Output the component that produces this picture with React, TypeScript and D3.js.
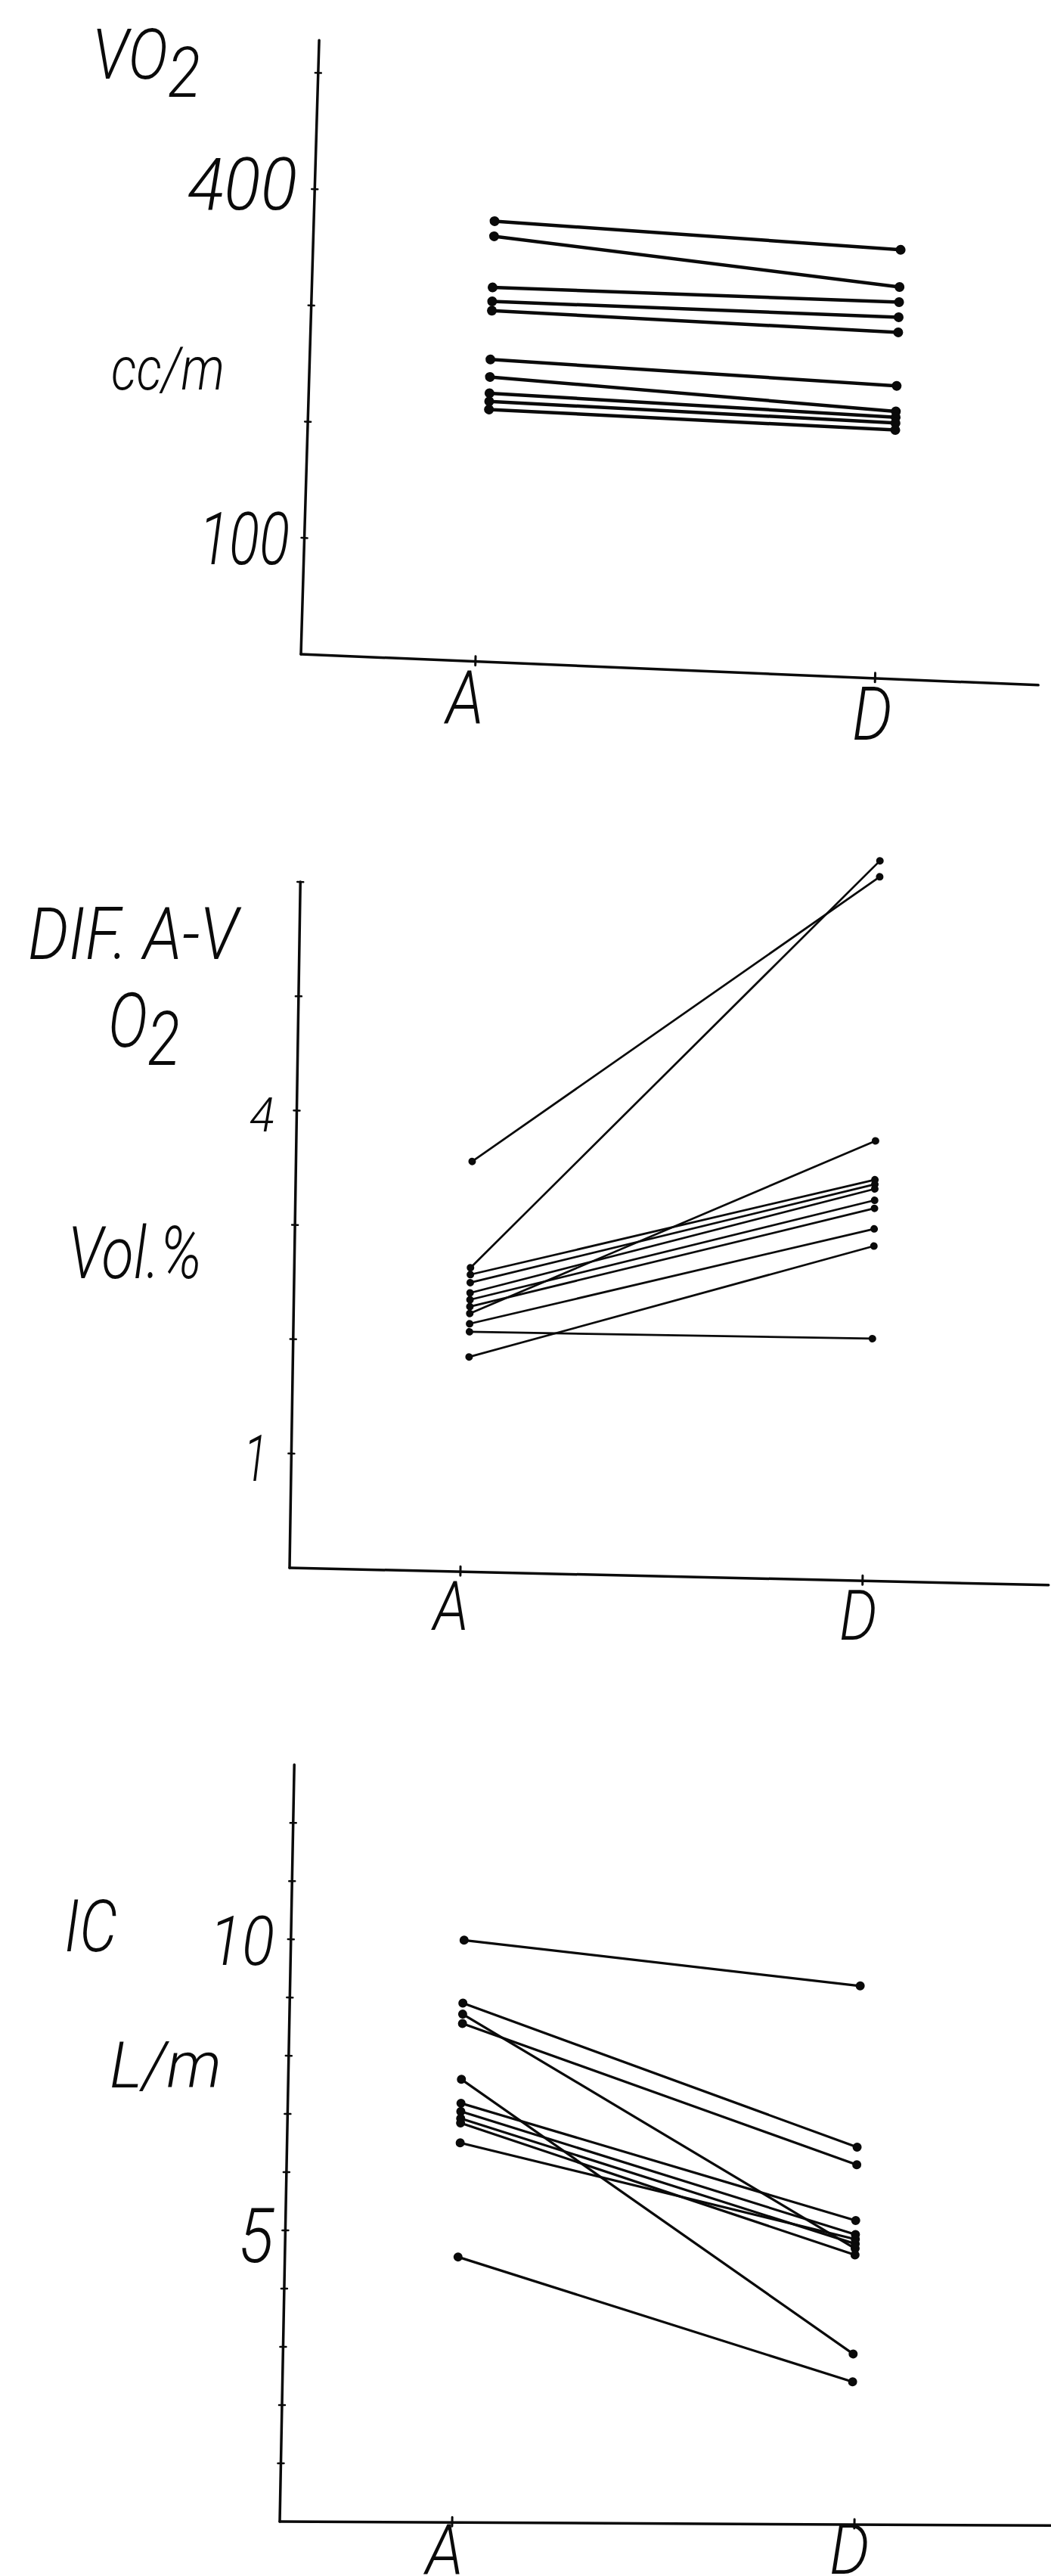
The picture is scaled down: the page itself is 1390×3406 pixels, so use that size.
import * as d3 from 'd3';

const GROUPS = ['A', 'D'];

// VO2 (cc/m), value at A and at D for each subject
const vo2Before = [379, 366, 322, 310, 302, 260, 245, 231, 224, 217];
const vo2After = [369, 337, 324, 311, 298, 252, 230, 225, 220, 214];
const vo2Ticks = [100, 200, 300, 400, 500];

// DIF. A-V O2 (Vol.%)
const difBefore = [3.59, 2.66, 1.88, 2.26, 2.1, 2.6, 2.53, 2.44, 2.38, 2.32, 2.17];
const difAfter = [6.16, 6.3, 2.93, 3.85, 2.12, 3.51, 3.47, 3.43, 3.33, 3.26, 3.08];
const difTicks = [1, 2, 3, 4, 5, 6];

// IC (L/m)
const icBefore = [10.0, 8.92, 8.57, 8.73, 7.61, 7.2, 7.06, 6.94, 6.86, 6.52, 4.56];
const icAfter = [9.25, 6.48, 6.18, 4.74, 2.93, 5.22, 4.98, 4.82, 4.63, 4.9, 2.45];
const icTicks = [1, 2, 3, 4, 5, 6, 7, 8, 9, 10, 11, 12];

const WIDTH = 1390;
const HEIGHT = 3406;
const INK = '#0a0a0a';
const FONT = "Roboto, Inter, 'Open Sans', 'DejaVu Sans', sans-serif";

interface PanelProps {
  before: number[];
  after: number[];
  ticks: number[];
  yMax: number;
  axisLen: number;
  origin: [number, number];
  alpha: number; // tilt of the x axis, degrees
  beta: number; // tilt of the y axis, degrees
  xLen: number;
  tickRange: [number, number];
  dataRange: [number, number];
  lineWidth: number;
  dotR: number;
}

function Panel({
  before, after, ticks, yMax, axisLen, origin, alpha, beta,
  xLen, tickRange, dataRange, lineWidth, dotR,
}: PanelProps) {
  const y = d3.scaleLinear().domain([0, yMax]).range([0, -axisLen]);
  const xTick = d3.scalePoint<string>().domain(GROUPS).range(tickRange);
  const xData = d3.scalePoint<string>().domain(GROUPS).range(dataRange);

  const a = (alpha * Math.PI) / 180;
  const b = (beta * Math.PI) / 180;
  // hand drawn axes are not quite square to the page
  const m = `matrix(${Math.cos(a)},${Math.sin(a)},${-Math.sin(b)},${Math.cos(b)},${origin[0]},${origin[1]})`;

  const pairs = before.map((v, i) => [v, after[i]]);

  return (
    <g transform={m} stroke={INK} strokeLinecap="round">
      <line x1={0} y1={0} x2={0} y2={y(yMax)} strokeWidth={3.5} />
      <line x1={0} y1={0} x2={xLen} y2={0} strokeWidth={3.5} />
      {ticks.map((t) => (
        <line key={t} x1={-4} x2={4} y1={y(t)} y2={y(t)} strokeWidth={2.5} />
      ))}
      {GROUPS.map((g) => (
        <line key={g} x1={xTick(g)} x2={xTick(g)} y1={-7} y2={5} strokeWidth={3} />
      ))}
      {pairs.map((p, i) => (
        <g key={i}>
          <line
            x1={xData('A')}
            y1={y(p[0])}
            x2={xData('D')}
            y2={y(p[1])}
            strokeWidth={lineWidth}
          />
          <circle cx={xData('A')} cy={y(p[0])} r={dotR} fill={INK} stroke="none" />
          <circle cx={xData('D')} cy={y(p[1])} r={dotR} fill={INK} stroke="none" />
        </g>
      ))}
    </g>
  );
}

interface LabelProps {
  x: number;
  y: number;
  size: number;
  w: number;
  children: string;
  sub?: string; // dropped "2" of O2
  subDy?: number;
}

function Label({ x, y, size, w, children, sub, subDy = 24 }: LabelProps) {
  return (
    <text
      x={x}
      y={y}
      fontSize={size}
      textLength={w}
      lengthAdjust="spacingAndGlyphs"
      fontFamily={FONT}
      fontStyle="italic"
      fontWeight={300}
      fill={INK}
    >
      {children}
      {sub ? <tspan dy={subDy}>{sub}</tspan> : null}
    </text>
  );
}

export default function App() {
  return (
    <svg
      width={WIDTH}
      height={HEIGHT}
      viewBox={`0 0 ${WIDTH} ${HEIGHT}`}
      style={{ position: 'absolute', left: 0, top: 0, background: '#fff' }}
    >
      <rect width={WIDTH} height={HEIGHT} fill="#fff" />

      {/* VO2 */}
      <Panel
        before={vo2Before}
        after={vo2After}
        ticks={vo2Ticks}
        yMax={528}
        axisLen={812}
        origin={[398, 865]}
        alpha={2.4}
        beta={1.7}
        xLen={976}
        tickRange={[231, 760]}
        dataRange={[239, 777]}
        lineWidth={4.5}
        dotR={6.5}
      />
      <Label x={122} y={104} size={92} w={143} sub="2" subDy={24}>VO</Label>
      <Label x={248} y={277} size={96} w={145}>400</Label>
      <Label x={147} y={515} size={80} w={150}>cc/m</Label>
      <Label x={263} y={746} size={96} w={120}>100</Label>
      <Label x={590} y={957} size={98} w={50}>A</Label>
      <Label x={1127} y={978} size={98} w={53}>D</Label>

      {/* DIF. A-V O2 */}
      <Panel
        before={difBefore}
        after={difAfter}
        ticks={difTicks}
        yMax={6}
        axisLen={907}
        origin={[383, 2073]}
        alpha={1.3}
        beta={0.9}
        xLen={1004}
        tickRange={[226, 758]}
        dataRange={[233, 766]}
        lineWidth={2.7}
        dotR={5}
      />
      <Label x={37} y={1268} size={96} w={278}>DIF. A-V</Label>
      <Label x={143} y={1384} size={100} w={95} sub="2" subDy={24}>O</Label>
      <Label x={330} y={1496} size={63} w={33}>4</Label>
      <Label x={90} y={1690} size={96} w={177}>Vol.%</Label>
      <Label x={322} y={1958} size={86} w={32}>1</Label>
      <Label x={573} y={2155} size={90} w={47}>A</Label>
      <Label x={1110} y={2168} size={93} w={50}>D</Label>

      {/* IC */}
      <Panel
        before={icBefore}
        after={icAfter}
        ticks={icTicks}
        yMax={13}
        axisLen={1001}
        origin={[370, 3334]}
        alpha={0.3}
        beta={1.1}
        xLen={1020}
        tickRange={[228, 760]}
        dataRange={[229, 754]}
        lineWidth={3.2}
        dotR={6}
      />
      <Label x={85} y={2580} size={97} w={70}>IC</Label>
      <Label x={277} y={2598} size={90} w={86}>10</Label>
      <Label x={145} y={2760} size={85} w={148}>L/m</Label>
      <Label x={315} y={2991} size={100} w={47}>5</Label>
      <Label x={563} y={3403} size={92} w={50}>A</Label>
      <Label x={1097} y={3403} size={92} w={53}>D</Label>
    </svg>
  );
}
